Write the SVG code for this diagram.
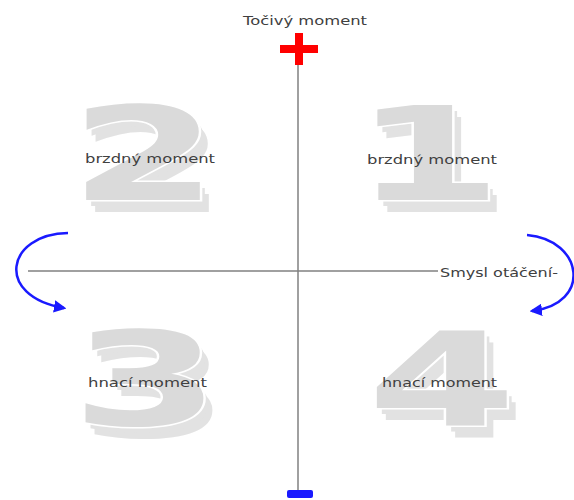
<svg xmlns="http://www.w3.org/2000/svg" width="574" height="500" viewBox="0 0 574 500">
  <defs>
    <style>
      .axis { stroke: #808080; stroke-width: 1.5; fill: none; }
      .turn { stroke: #1a1aff; stroke-width: 2.5; fill: none; marker-end: url(#head); }
      .num { font-family: "DejaVu Sans", sans-serif; font-weight: bold; font-size: 130px; text-anchor: middle; }
      .face { fill: #dadada; stroke: #ffffff; stroke-width: 3; paint-order: stroke; }
      .shade { fill: #e2e2e2; }
      .lbl { font-family: "DejaVu Sans", "Liberation Sans", sans-serif; font-size: 13px; fill: #404040; }
    </style>
    <marker id="head" viewBox="0 0 10 10" refX="8" refY="5" markerWidth="5" markerHeight="5" orient="auto" markerUnits="strokeWidth">
      <path d="M0,0 L10,5 L0,10 z" fill="#1a1aff"/>
    </marker>
  </defs>

  <rect width="574" height="500" fill="#ffffff"/>

  <!-- quadrant numerals with extruded shade -->
  <g id="q2">
    <text class="num shade" transform="translate(153,212) scale(1.65,1)">2</text>
    <text class="num shade" transform="translate(149,206) scale(1.65,1)">2</text>
    <text class="num face" transform="translate(144,200) scale(1.65,1)">2</text>
    <text class="lbl" x="85" y="163" textLength="130" lengthAdjust="spacingAndGlyphs">brzdný moment</text>
  </g>
  <g id="q1">
    <text class="num shade" transform="translate(437,212) scale(1.65,1)">1</text>
    <text class="num shade" transform="translate(433,206) scale(1.65,1)">1</text>
    <text class="num face" transform="translate(428,200) scale(1.65,1)">1</text>
    <text class="lbl" x="367" y="164" textLength="130" lengthAdjust="spacingAndGlyphs">brzdný moment</text>
  </g>
  <g id="q3">
    <text class="num shade" transform="translate(155,437) scale(1.65,1)">3</text>
    <text class="num shade" transform="translate(151,431) scale(1.65,1)">3</text>
    <text class="num face" transform="translate(146,425) scale(1.65,1)">3</text>
    <text class="lbl" x="88" y="387" textLength="119" lengthAdjust="spacingAndGlyphs">hnací moment</text>
  </g>
  <g id="q4">
    <text class="num shade" transform="translate(451,437) scale(1.65,1)">4</text>
    <text class="num shade" transform="translate(447,431) scale(1.65,1)">4</text>
    <text class="num face" transform="translate(442,425) scale(1.65,1)">4</text>
    <text class="lbl" x="382" y="387" textLength="115" lengthAdjust="spacingAndGlyphs">hnací moment</text>
  </g>

  <!-- axes and rotation arrows -->
  <g id="connectors">
    <line class="axis" x1="298" y1="40" x2="298" y2="492"/>
    <line class="axis" x1="28" y1="271" x2="438" y2="271"/>
    <path class="turn" d="M68,233 C6,234 -6,296 64,308"/>
    <path class="turn" d="M527,235 C584,240 592,304 532,311"/>
  </g>

  <!-- axis titles and signs -->
  <g id="torque">
    <text class="lbl" x="243" y="25" textLength="124" lengthAdjust="spacingAndGlyphs">Točivý moment</text>
    <rect x="280" y="45" width="38" height="8" fill="#ff0000"/>
    <rect x="295" y="33" width="8" height="32" fill="#ff0000"/>
  </g>
  <g id="direction">
    <text class="lbl" x="440" y="277" textLength="118" lengthAdjust="spacingAndGlyphs">Smysl otáčení-</text>
  </g>
  <g id="minus">
    <rect x="287" y="490" width="26" height="8" rx="2" fill="#1a1aff"/>
  </g>
</svg>
